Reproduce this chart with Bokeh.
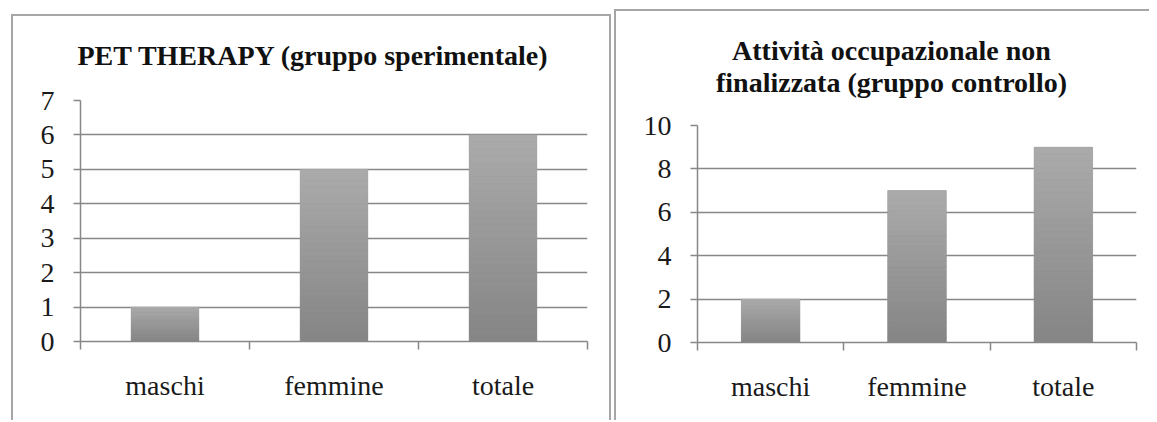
from bokeh.plotting import figure
from bokeh.models import FixedTicker, Label, ColumnDataSource
from bokeh.layouts import row, column
from bokeh.embed import file_html
from bokeh.resources import INLINE

# Data
categories = ["maschi", "femmine", "totale"]
pet_values = [1, 5, 6]
ctrl_values = [2, 7, 9]
pet_title = ["PET THERAPY (gruppo sperimentale)"]
ctrl_title = ["Attività occupazionale non", "finalizzata (gruppo controllo)"]
pet_yticks = [0, 1, 2, 3, 4, 5, 6, 7]
ctrl_yticks = [0, 2, 4, 6, 8, 10]

FONT = "'Liberation Serif', serif"
GRID = "#878787"
BORDER = "2px solid #a6a6a6"


def lerp_hex(c0, c1, t):
    a = [int(c0[i:i + 2], 16) for i in (1, 3, 5)]
    b = [int(c1[i:i + 2], 16) for i in (1, 3, 5)]
    return "#%02x%02x%02x" % tuple(round(x + (y - x) * t) for x, y in zip(a, b))


def gradient_bars(p, xs, values, width, n=30, dark="#858585", light="#ababab"):
    # solid base bar, then thin horizontal strips shading from dark (base) to light (top)
    p.vbar(x=xs, top=values, bottom=0, width=width, fill_color=dark, line_color=None)
    sx, sb, st, sc = [], [], [], []
    for x, v in zip(xs, values):
        for k in range(n):
            sx.append(x)
            sb.append(v * k / n)
            st.append(v * (k + 1) / n)
            sc.append(lerp_hex(dark, light, (k + 0.5) / n))
    src = ColumnDataSource(dict(x=sx, bottom=sb, top=st, color=sc))
    p.vbar(x="x", bottom="bottom", top="top", width=width, source=src,
           fill_color="color", line_color="color", line_width=0.6)


def title_block(lines, width, height, cx, cys, styles, margin):
    # a bare canvas that only carries the centred, bold title lines
    t = figure(width=width, height=height, output_backend="svg", toolbar_location=None,
               x_axis_location=None, y_axis_location=None,
               min_border=0, styles=styles, margin=margin)
    t.outline_line_color = None
    t.xgrid.visible = False
    t.ygrid.visible = False
    t.border_fill_color = "white"
    t.background_fill_color = "white"
    for line, cy in zip(lines, cys):
        t.add_layout(Label(x=cx, y=height - cy, x_units="screen", y_units="screen",
                           text=line, text_font=FONT, text_font_style="bold",
                           text_font_size="28px", text_color="#111111",
                           text_align="center", text_baseline="middle"))
    return t


def make_panel(values, yticks, width, height, borders, styles, margin):
    n = len(categories)
    xs = [i + 0.5 for i in range(n)]
    p = figure(width=width, height=height, output_backend="svg", toolbar_location=None,
               x_range=(0, n), y_range=(yticks[0], yticks[-1]),
               min_border_left=borders[0], min_border_right=borders[1],
               min_border_top=borders[2], min_border_bottom=borders[3],
               styles=styles, margin=margin)
    p.outline_line_color = None
    p.background_fill_color = "white"
    p.border_fill_color = "white"

    gradient_bars(p, xs, values, width=0.4)

    # y axis
    yax = p.yaxis[0]
    yax.ticker = FixedTicker(ticks=yticks, minor_ticks=[])
    yax.axis_line_color = GRID
    yax.axis_line_width = 1.5
    yax.major_tick_line_color = GRID
    yax.major_tick_line_width = 1.5
    yax.major_tick_out = 7
    yax.major_tick_in = 0
    yax.minor_tick_line_color = None
    yax.major_label_text_font = FONT
    yax.major_label_text_font_size = "28px"
    yax.major_label_text_color = "#1a1a1a"
    yax.major_label_standoff = 19

    # x axis: labels at category centres, ticks at category boundaries
    xax = p.xaxis[0]
    xax.ticker = FixedTicker(ticks=xs, minor_ticks=list(range(n + 1)))
    xax.major_label_overrides = {x: c for x, c in zip(xs, categories)}
    xax.axis_line_color = GRID
    xax.axis_line_width = 1.5
    xax.major_tick_line_color = None
    xax.major_tick_out = 0
    xax.major_tick_in = 0
    xax.minor_tick_line_color = GRID
    xax.minor_tick_line_width = 1.5
    xax.minor_tick_out = 8
    xax.minor_tick_in = 0
    xax.major_label_text_font = FONT
    xax.major_label_text_font_size = "28px"
    xax.major_label_text_color = "#1a1a1a"
    xax.major_label_standoff = 20

    p.xgrid.grid_line_color = None
    p.ygrid.ticker = FixedTicker(ticks=yticks)
    p.ygrid.grid_line_color = GRID
    p.ygrid.grid_line_width = 1.5
    return p


# left panel: title strip (62 px) over the chart (344 px), framed on three sides
left_title = title_block(pet_title, 600, 62, cx=300, cys=[39],
                         styles={"border-top": BORDER, "border-left": BORDER,
                                 "border-right": BORDER},
                         margin=(14, 0, 0, 11))
left_plot = make_panel(pet_values, pet_yticks, 600, 344, borders=(67, 26, 24, 79),
                       styles={"border-left": BORDER, "border-right": BORDER},
                       margin=(0, 0, 0, 11))

# right panel: two-line title strip (89 px) over the chart (322 px)
right_title = title_block(ctrl_title, 535, 89, cx=275, cys=[39, 71],
                          styles={"border-top": BORDER, "border-left": BORDER},
                          margin=(9, 0, 0, 3))
right_plot = make_panel(ctrl_values, ctrl_yticks, 535, 322, borders=(81, 15, 27, 78),
                        styles={"border-left": BORDER},
                        margin=(0, 0, 0, 3))

layout = row(column(column(left_title), column(left_plot), spacing=0),
             column(column(right_title), column(right_plot), spacing=0),
             spacing=0)
open("out.html", "w").write(file_html(layout, INLINE))
